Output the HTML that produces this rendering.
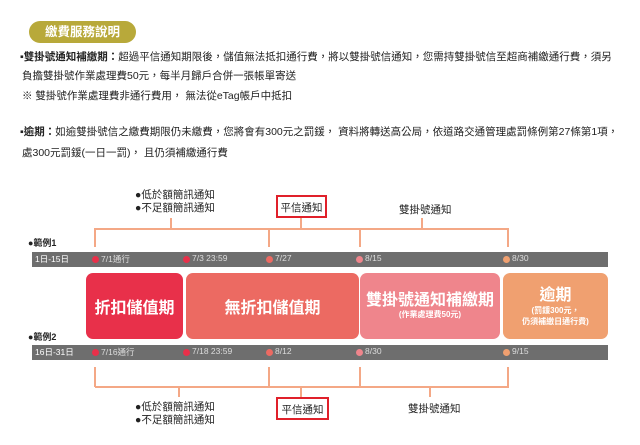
<!DOCTYPE html>
<html><head><meta charset="utf-8"><style>
body{margin:0;width:640px;height:445px;background:#fff;position:relative;overflow:hidden;font-family:"Liberation Sans","Noto Sans CJK TC",sans-serif;color:#222}
.a{position:absolute;white-space:nowrap}
.t{font-size:10.5px}
.l{position:absolute;background:#f4a886}
.bar{position:absolute;left:32px;width:576px;height:15px;background:#6e6e6e}
.d{position:absolute;top:4px;width:7px;height:7px;border-radius:50%}
.bt{position:absolute;top:1px;font-size:8.5px;color:#ddd}
.blk{position:absolute;top:273px;height:66px;border-radius:7px;color:#fff;font-weight:bold;text-align:center;display:flex;flex-direction:column;justify-content:center;align-items:center}
.rb{position:absolute;border:2px solid #e0202a;font-size:10.5px;text-align:center;line-height:23px}
</style></head><body>
<div class="a" style="left:29px;top:21px;width:107px;height:22px;background:#b8a93a;border-radius:11px;color:#fff;font-weight:bold;font-size:12.5px;line-height:22px;text-align:center">繳費服務說明</div>
<div class="a t" style="left:20px;top:49px"><b>▪雙掛號通知補繳期：</b>超過平信通知期限後，儲值無法抵扣通行費，將以雙掛號信通知，您需持雙掛號信至超商補繳通行費，須另</div>
<div class="a t" style="left:22px;top:68px">負擔雙掛號作業處理費50元，每半月歸戶合併一張帳單寄送</div>
<div class="a t" style="left:22px;top:88px">※ 雙掛號作業處理費非通行費用， 無法從eTag帳戶中抵扣</div>
<div class="a t" style="left:20px;top:124px"><b>▪逾期：</b>如逾雙掛號信之繳費期限仍未繳費，您將會有300元之罰鍰， 資料將轉送高公局，依道路交通管理處罰條例第27條第1項，</div>
<div class="a t" style="left:22px;top:145px">處300元罰鍰(一日一罰)， 且仍須補繳通行費</div>

<div class="a t" style="left:135px;top:189px;line-height:13px">●低於額簡訊通知<br>●不足額簡訊通知</div>
<div class="rb" style="left:276px;top:195px;width:47px;height:19px">平信通知</div>
<div class="a t" style="left:399px;top:202px">雙掛號通知</div>
<div class="l" style="left:95px;top:228px;width:414px;height:2px"></div>
<div class="l" style="left:170px;top:218px;width:2px;height:10px"></div>
<div class="l" style="left:300px;top:218px;width:2px;height:10px"></div>
<div class="l" style="left:421px;top:218px;width:2px;height:10px"></div>
<div class="l" style="left:94px;top:228px;width:2px;height:19px"></div>
<div class="l" style="left:268px;top:228px;width:2px;height:19px"></div>
<div class="l" style="left:359px;top:228px;width:2px;height:19px"></div>
<div class="l" style="left:507px;top:228px;width:2px;height:19px"></div>

<div class="a" style="left:28px;top:236px;font-size:9px;font-weight:bold">●範例1</div>
<div class="bar" style="top:252px">
<span class="bt" style="left:3px;color:#fff">1日-15日</span>
<span class="d" style="left:60px;background:#e8304a"></span><span class="bt" style="left:69px">7/1通行</span>
<span class="d" style="left:151px;background:#e8304a"></span><span class="bt" style="left:160px">7/3 23:59</span>
<span class="d" style="left:234px;background:#ec6a62"></span><span class="bt" style="left:243px">7/27</span>
<span class="d" style="left:324px;background:#ef858c"></span><span class="bt" style="left:333px">8/15</span>
<span class="d" style="left:471px;background:#f0a070"></span><span class="bt" style="left:480px">8/30</span>
</div>

<div class="blk" style="left:86px;width:97px;background:#e8304a;font-size:16px">折扣儲值期</div>
<div class="blk" style="left:186px;width:173px;background:#ec6a62;font-size:16px">無折扣儲值期</div>
<div class="blk" style="left:360px;width:140px;background:#ef858c;font-size:16px;line-height:18px">雙掛號通知補繳期<span style="font-size:8px;line-height:10px">(作業處理費50元)</span></div>
<div class="blk" style="left:503px;width:105px;background:#f0a070;font-size:16px;line-height:19px">逾期<span style="font-size:8px;line-height:11px">(罰鍰300元，<br>仍須補繳日通行費)</span></div>

<div class="a" style="left:28px;top:330px;font-size:9px;font-weight:bold">●範例2</div>
<div class="bar" style="top:345px">
<span class="bt" style="left:3px;color:#fff">16日-31日</span>
<span class="d" style="left:60px;background:#e8304a"></span><span class="bt" style="left:69px">7/16通行</span>
<span class="d" style="left:151px;background:#e8304a"></span><span class="bt" style="left:160px">7/18 23:59</span>
<span class="d" style="left:234px;background:#ec6a62"></span><span class="bt" style="left:243px">8/12</span>
<span class="d" style="left:324px;background:#ef858c"></span><span class="bt" style="left:333px">8/30</span>
<span class="d" style="left:471px;background:#f0a070"></span><span class="bt" style="left:480px">9/15</span>
</div>

<div class="l" style="left:94px;top:367px;width:2px;height:20px"></div>
<div class="l" style="left:268px;top:367px;width:2px;height:20px"></div>
<div class="l" style="left:359px;top:367px;width:2px;height:20px"></div>
<div class="l" style="left:507px;top:367px;width:2px;height:20px"></div>
<div class="l" style="left:95px;top:386px;width:414px;height:2px"></div>
<div class="l" style="left:178px;top:387px;width:2px;height:10px"></div>
<div class="l" style="left:300px;top:387px;width:2px;height:10px"></div>
<div class="l" style="left:429px;top:387px;width:2px;height:10px"></div>

<div class="a t" style="left:135px;top:401px;line-height:13px">●低於額簡訊通知<br>●不足額簡訊通知</div>
<div class="rb" style="left:276px;top:397px;width:49px;height:19px">平信通知</div>
<div class="a t" style="left:408px;top:401px">雙掛號通知</div>
</body></html>
